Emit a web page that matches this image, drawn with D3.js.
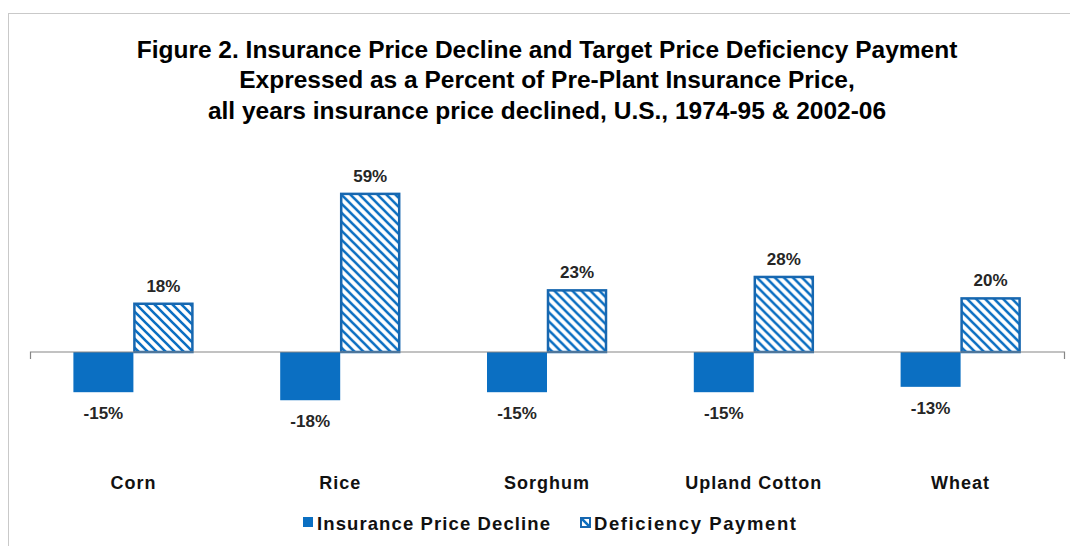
<!DOCTYPE html>
<html>
<head>
<meta charset="utf-8">
<script src="https://cdn.jsdelivr.net/npm/d3@7.9.0/dist/d3.min.js"></script>
<style>
  html, body { margin: 0; padding: 0; background: #fff; }
  svg { display: block; font-family: "Liberation Sans", Arial, sans-serif; }
</style>
</head>
<body>
<svg id="chart" width="1070" height="546"></svg>
<script>
// Chart data
const categories = ['Corn', 'Rice', 'Sorghum', 'Upland Cotton', 'Wheat'];
const seriesNames = ['Insurance Price Decline', 'Deficiency Payment'];
const priceDecline = [-15, -18, -15, -15, -13];
const deficiencyPayment = [18, 59, 23, 28, 20];
const titleLines = [
  'Figure 2. Insurance Price Decline and Target Price Deficiency Payment',
  'Expressed as a Percent of Pre-Plant Insurance Price,',
  'all years insurance price declined, U.S., 1974-95 & 2002-06'
];

const blue = '#0B6FC2';
const svg = d3.select('#chart');

// frame around the chart area
svg.append('rect')
  .attr('x', 8.5).attr('y', 13.5)
  .attr('width', 1080).attr('height', 560)
  .attr('fill', 'none')
  .attr('stroke', '#c9c9c9');

// hatch pattern for deficiency payment
const defs = svg.append('defs');
const pat = defs.append('pattern')
  .attr('id', 'hatch')
  .attr('patternUnits', 'userSpaceOnUse')
  .attr('width', 9).attr('height', 9);
pat.append('rect').attr('width', 9).attr('height', 9).attr('fill', '#fff');
pat.append('path')
  .attr('d', 'M0,0L9,9M-1,8L1,10M8,-1L10,1')
  .attr('stroke', blue)
  .attr('stroke-width', 2.6);

// scales
const x0 = d3.scaleBand().domain(categories).range([30, 1064]);
const bw = x0.bandwidth();
const x1 = d3.scaleBand().domain(seriesNames).range([bw / 2 - 60, bw / 2 + 60]);
const y = d3.scaleLinear().domain([-20, 60]).range([405.6, 191.2]);

// title
svg.append('g')
  .selectAll('text')
  .data(titleLines)
  .join('text')
  .attr('x', 547)
  .attr('y', (d, i) => 57.5 + i * 30.5)
  .attr('text-anchor', 'middle')
  .attr('font-size', 24.5)
  .attr('font-weight', 'bold')
  .attr('fill', '#000')
  .text(d => d);

// bars
const rows = categories.map((c, i) => ({
  cat: c,
  vals: [
    { s: seriesNames[0], v: priceDecline[i] },
    { s: seriesNames[1], v: deficiencyPayment[i] }
  ]
}));

const groups = svg.append('g')
  .selectAll('g')
  .data(rows)
  .join('g')
  .attr('transform', d => `translate(${x0(d.cat)},0)`);

groups.selectAll('rect')
  .data(d => d.vals)
  .join('rect')
  .attr('x', d => x1(d.s) + (d.s === seriesNames[1] ? 1 : 0))
  .attr('y', d => y(Math.max(0, d.v)))
  .attr('width', d => x1.bandwidth() - (d.s === seriesNames[1] ? 2 : 0))
  .attr('height', d => Math.abs(y(d.v) - y(0)))
  .attr('fill', d => d.s === seriesNames[0] ? blue : 'url(#hatch)')
  .attr('stroke', d => d.s === seriesNames[0] ? 'none' : '#1767B0')
  .attr('stroke-width', 2.5);

// value labels
groups.selectAll('text')
  .data(d => d.vals)
  .join('text')
  .attr('x', d => x1(d.s) + x1.bandwidth() / 2)
  .attr('y', d => d.v >= 0 ? y(d.v) - 12 : y(d.v) + 27)
  .attr('text-anchor', 'middle')
  .attr('font-size', 17)
  .attr('font-weight', 'bold')
  .attr('fill', '#262626')
  .text(d => d.v + '%');

// zero axis with end ticks
const axis = svg.append('g').attr('stroke', '#868686').attr('fill', 'none');
axis.append('path')
  .attr('d', `M30.5,${y(0) + 7}V${y(0)}H1064.5V${y(0) + 7}`)
  .attr('stroke-width', 1.2);

// category labels
svg.append('g')
  .selectAll('text')
  .data(categories)
  .join('text')
  .attr('x', d => x0(d) + bw / 2)
  .attr('y', 489)
  .attr('text-anchor', 'middle')
  .attr('font-size', 18)
  .attr('font-weight', 'bold')
  .attr('letter-spacing', 1)
  .attr('fill', '#111')
  .text(d => d);

// legend
const legendX = [303, 580];
const legend = svg.append('g')
  .selectAll('g')
  .data(seriesNames)
  .join('g')
  .attr('transform', (d, i) => `translate(${legendX[i]},517)`);

legend.append('rect')
  .attr('x', (d, i) => i ? 1 : 0).attr('y', (d, i) => i ? 1 : 0)
  .attr('width', (d, i) => i ? 9 : 10).attr('height', (d, i) => i ? 9 : 10)
  .attr('fill', (d, i) => i ? 'url(#hatch)' : blue)
  .attr('stroke', (d, i) => i ? '#1767B0' : 'none')
  .attr('stroke-width', 2);

legend.append('text')
  .attr('x', 14)
  .attr('y', 12.5)
  .attr('font-size', 18.5)
  .attr('font-weight', 'bold')
  .attr('letter-spacing', (d, i) => i ? 1.6 : 1.1)
  .attr('fill', '#111')
  .text(d => d);
</script>
</body>
</html>
